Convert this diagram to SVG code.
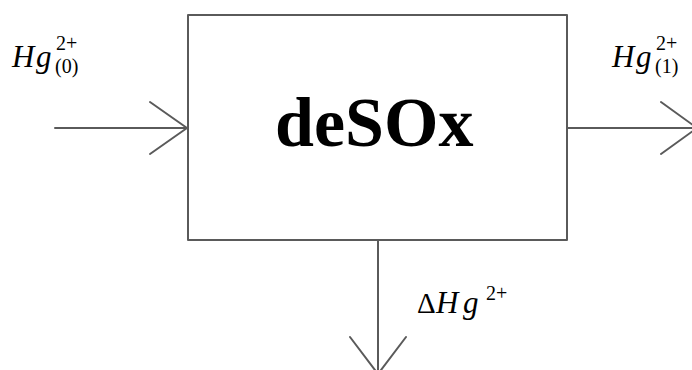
<svg xmlns="http://www.w3.org/2000/svg" width="692" height="370" viewBox="0 0 692 370">
<style>
.ln{stroke:#5a5a5a;stroke-width:2;fill:none;stroke-linecap:round;stroke-linejoin:round}
.mi{font-family:"Liberation Serif","Times New Roman",serif;font-style:italic;font-size:31px;fill:#000}
.sc{font-family:"Liberation Serif","Times New Roman",serif;font-size:20px;fill:#000}
.up{font-family:"Liberation Serif","Times New Roman",serif;font-size:29px;fill:#000}
.title{font-family:"Liberation Serif","Times New Roman",serif;font-weight:bold;font-size:70px;fill:#000}
</style>
<rect width="692" height="370" fill="#fff"/>
<g id="connectors">
  <g id="in-arrow">
    <line class="ln" x1="55" y1="128" x2="187" y2="128"/>
    <polyline class="ln" points="150,102 187,128 150,154"/>
  </g>
  <g id="out-arrow">
    <line class="ln" x1="567" y1="128" x2="697" y2="128"/>
    <polyline class="ln" points="661,102 697,128 661,154"/>
  </g>
  <g id="down-arrow">
    <line class="ln" x1="378" y1="240" x2="378" y2="374"/>
    <polyline class="ln" points="350,337 378,374 406,337"/>
  </g>
</g>
<g id="node-desox">
  <rect class="ln" x="188" y="15" width="379" height="225"/>
  <text class="title" x="275" y="146">deSOx</text>
</g>
<g id="label-in">
  <text class="mi" x="12" y="67">H</text>
  <text class="mi" x="36" y="67">g</text>
  <text class="sc" x="56" y="50">2+</text>
  <text class="sc" x="55" y="73">(0)</text>
</g>
<g id="label-out">
  <text class="mi" x="612" y="67">H</text>
  <text class="mi" x="636" y="67">g</text>
  <text class="sc" x="656" y="50">2+</text>
  <text class="sc" x="655" y="73">(1)</text>
</g>
<g id="label-delta">
  <text class="up" x="417" y="313">Δ</text>
  <text class="mi" x="436" y="313">H</text>
  <text class="mi" x="463" y="313">g</text>
  <text class="sc" x="486" y="300">2+</text>
</g>
</svg>
